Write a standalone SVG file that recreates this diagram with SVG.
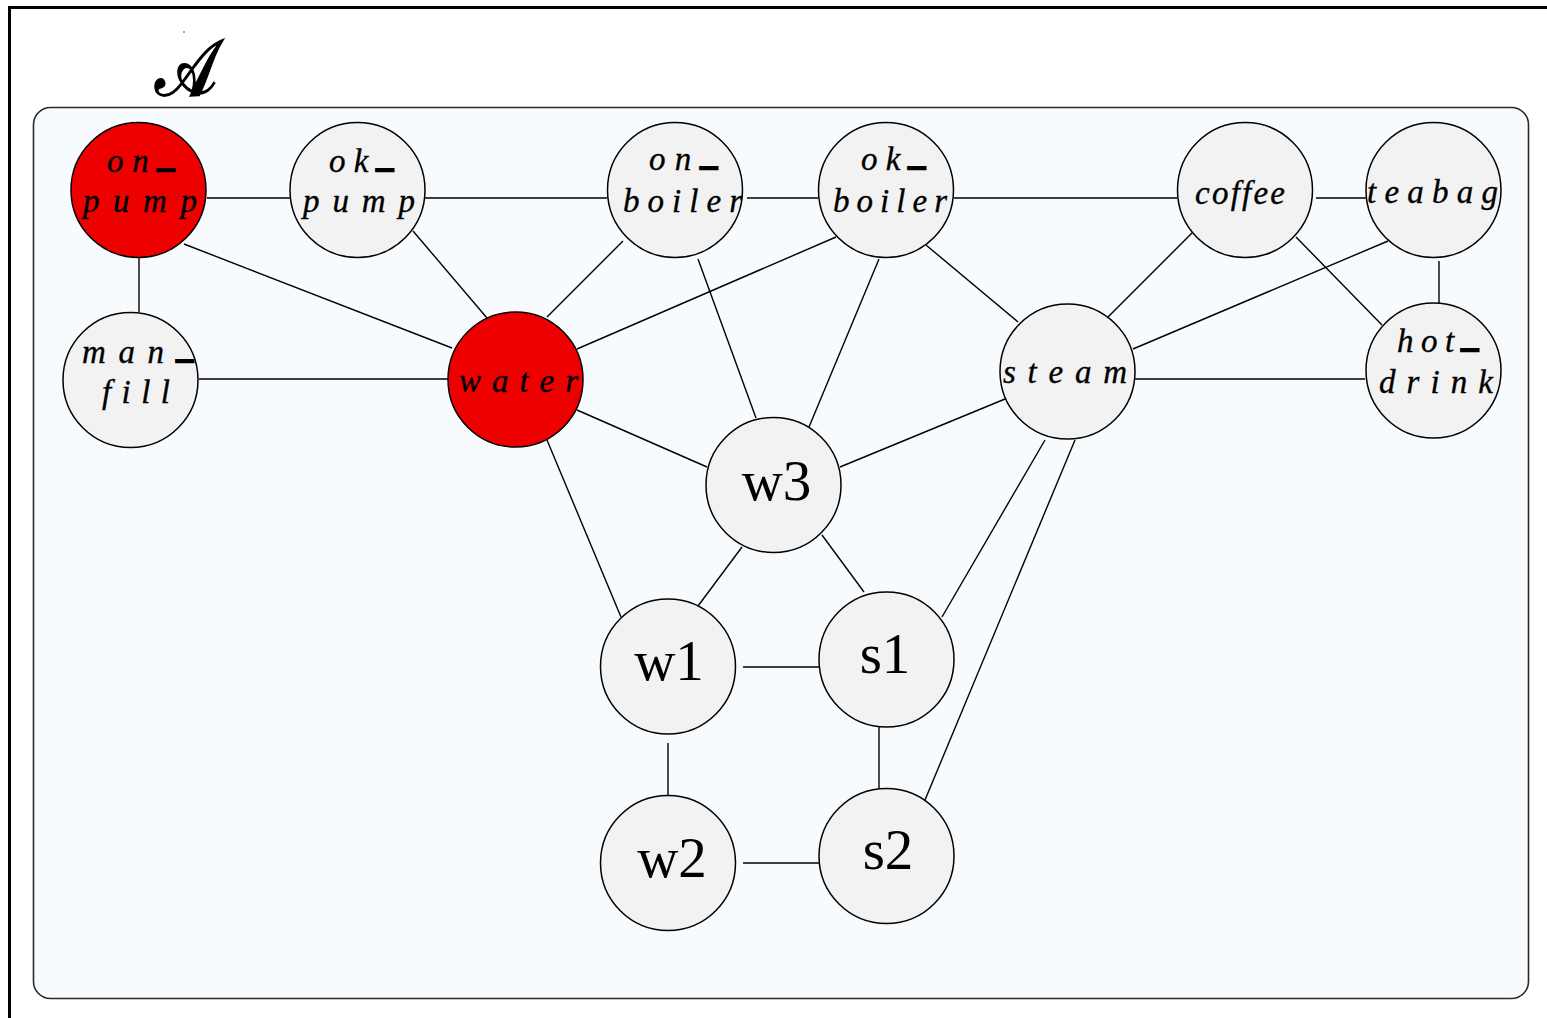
<svg xmlns="http://www.w3.org/2000/svg" width="1547" height="1018" viewBox="0 0 1547 1018">
  <style>
    .node { fill: #f2f2f2; stroke: #000; stroke-width: 1.5; }
    .hot { fill: #ef0000; }
    .edge { stroke: #000; stroke-width: 1.4; fill: none; }
    .lbl { font-family: "Liberation Serif", "Times New Roman", serif; font-style: italic; font-size: 33px; fill: #000; stroke: #000; stroke-width: 0.35; }
    .us { stroke: #000; stroke-width: 2.4; }
    .big { font-family: "Liberation Serif", "Times New Roman", serif; font-size: 57px; fill: #000; text-anchor: middle; }
    .cal { font-family: "DejaVu Serif", "DejaVu Sans", serif; font-size: 66px; fill: #000; stroke: #000; stroke-width: 1.6; }
  </style>

  <rect width="1547" height="1018" fill="#ffffff"/>

  <!-- page frame -->
  <path d="M9.5 1018 V7.5 H1547" fill="none" stroke="#000" stroke-width="3"/>

  <!-- set name -->
  <circle cx="184" cy="32" r="0.7" fill="#000"/>
  <text class="cal" x="155" y="95" transform="translate(155 95) scale(1 1.2) translate(-155 -95)">𝒜</text>

  <!-- container -->
  <rect x="33.5" y="107.5" width="1495" height="891" rx="17" ry="17" fill="#f7fbfe" stroke="#2a2a2a" stroke-width="1.6"/>

  <g id="connectors">
    <line class="edge" x1="207" y1="198" x2="290" y2="198"/>
    <line class="edge" x1="139" y1="258" x2="139" y2="312"/>
    <line class="edge" x1="184" y1="244" x2="452" y2="348"/>
    <line class="edge" x1="425" y1="198" x2="607" y2="198"/>
    <line class="edge" x1="413" y1="231" x2="487" y2="318"/>
    <line class="edge" x1="623" y1="241" x2="547" y2="317"/>
    <line class="edge" x1="747" y1="198" x2="818" y2="198"/>
    <line class="edge" x1="698" y1="259" x2="756" y2="418"/>
    <line class="edge" x1="836" y1="237" x2="577" y2="349"/>
    <line class="edge" x1="879" y1="259" x2="809" y2="427"/>
    <line class="edge" x1="954" y1="198" x2="1177" y2="198"/>
    <line class="edge" x1="926" y1="245" x2="1018" y2="322"/>
    <line class="edge" x1="1316" y1="198" x2="1367" y2="198"/>
    <line class="edge" x1="1193" y1="232" x2="1108" y2="317"/>
    <line class="edge" x1="1296" y1="237" x2="1382" y2="325"/>
    <line class="edge" x1="1388" y1="241" x2="1133" y2="349"/>
    <line class="edge" x1="1439" y1="261" x2="1439" y2="304"/>
    <line class="edge" x1="1135" y1="379" x2="1365" y2="379"/>
    <line class="edge" x1="199" y1="379" x2="448" y2="379"/>
    <line class="edge" x1="577" y1="410" x2="707" y2="467"/>
    <line class="edge" x1="547" y1="440" x2="621" y2="617"/>
    <line class="edge" x1="840" y1="467" x2="1005" y2="399"/>
    <line class="edge" x1="742" y1="547" x2="698" y2="606"/>
    <line class="edge" x1="822" y1="535" x2="864" y2="592"/>
    <line class="edge" x1="743" y1="667" x2="819" y2="667"/>
    <line class="edge" x1="942" y1="617" x2="1045" y2="440"/>
    <line class="edge" x1="925" y1="800" x2="1075" y2="440"/>
    <line class="edge" x1="668" y1="743" x2="668" y2="795"/>
    <line class="edge" x1="879" y1="727" x2="879" y2="788"/>
    <line class="edge" x1="743" y1="863" x2="819" y2="863"/>
  </g>

  <g id="on_pump">
    <circle class="node hot" cx="138.5" cy="190" r="67.5"/>
    <text class="lbl" x="107" y="172" textLength="67" lengthAdjust="spacing">on<tspan class="us" dy="-5">_</tspan></text>
    <text class="lbl" x="83" y="212" textLength="114" lengthAdjust="spacing">pump</text>
  </g>
  <g id="ok_pump">
    <circle class="node" cx="357.5" cy="190" r="67.5"/>
    <text class="lbl" x="329" y="172" textLength="64" lengthAdjust="spacing">ok<tspan class="us" dy="-5">_</tspan></text>
    <text class="lbl" x="303" y="212" textLength="112" lengthAdjust="spacing">pump</text>
  </g>
  <g id="on_boiler">
    <circle class="node" cx="675" cy="190" r="67.5"/>
    <text class="lbl" x="649" y="170" textLength="68" lengthAdjust="spacing">on<tspan class="us" dy="-5">_</tspan></text>
    <text class="lbl" x="623" y="212" textLength="119" lengthAdjust="spacing">boiler</text>
  </g>
  <g id="ok_boiler">
    <circle class="node" cx="886" cy="190" r="67.5"/>
    <text class="lbl" x="861" y="170" textLength="64" lengthAdjust="spacing">ok<tspan class="us" dy="-5">_</tspan></text>
    <text class="lbl" x="833" y="212" textLength="114" lengthAdjust="spacing">boiler</text>
  </g>
  <g id="coffee">
    <circle class="node" cx="1245" cy="190" r="67.5"/>
    <text class="lbl" x="1195" y="204" textLength="90" lengthAdjust="spacing">coffee</text>
  </g>
  <g id="teabag">
    <circle class="node" cx="1433.5" cy="190" r="67.5"/>
    <text class="lbl" x="1367" y="203" textLength="131" lengthAdjust="spacing">teabag</text>
  </g>
  <g id="man_fill">
    <circle class="node" cx="130.5" cy="380" r="67.5"/>
    <text class="lbl" x="82" y="363" textLength="111" lengthAdjust="spacing">man<tspan class="us" dy="-5">_</tspan></text>
    <text class="lbl" x="102" y="403" textLength="68" lengthAdjust="spacing">fill</text>
  </g>
  <g id="water">
    <circle class="node hot" cx="515.5" cy="379.5" r="67.5"/>
    <text class="lbl" x="459" y="392" textLength="119" lengthAdjust="spacing">water</text>
  </g>
  <g id="steam">
    <circle class="node" cx="1067.5" cy="371.5" r="67.5"/>
    <text class="lbl" x="1003" y="383" textLength="124" lengthAdjust="spacing">steam</text>
  </g>
  <g id="hot_drink">
    <circle class="node" cx="1433.5" cy="370.5" r="67.5"/>
    <text class="lbl" x="1397" y="352" textLength="81" lengthAdjust="spacing">hot<tspan class="us" dy="-5">_</tspan></text>
    <text class="lbl" x="1379" y="393" textLength="114" lengthAdjust="spacing">drink</text>
  </g>
  <g id="w3">
    <circle class="node" cx="773.5" cy="485" r="67.5"/>
    <text class="big" x="776.5" y="500">w3</text>
  </g>
  <g id="w1">
    <circle class="node" cx="668" cy="666.5" r="67.5"/>
    <text class="big" x="669" y="680">w1</text>
  </g>
  <g id="s1">
    <circle class="node" cx="886.5" cy="659.5" r="67.5"/>
    <text class="big" x="885" y="673">s1</text>
  </g>
  <g id="w2">
    <circle class="node" cx="668" cy="863" r="67.5"/>
    <text class="big" x="672" y="877">w2</text>
  </g>
  <g id="s2">
    <circle class="node" cx="886.5" cy="856" r="67.5"/>
    <text class="big" x="888" y="869">s2</text>
  </g>
</svg>
